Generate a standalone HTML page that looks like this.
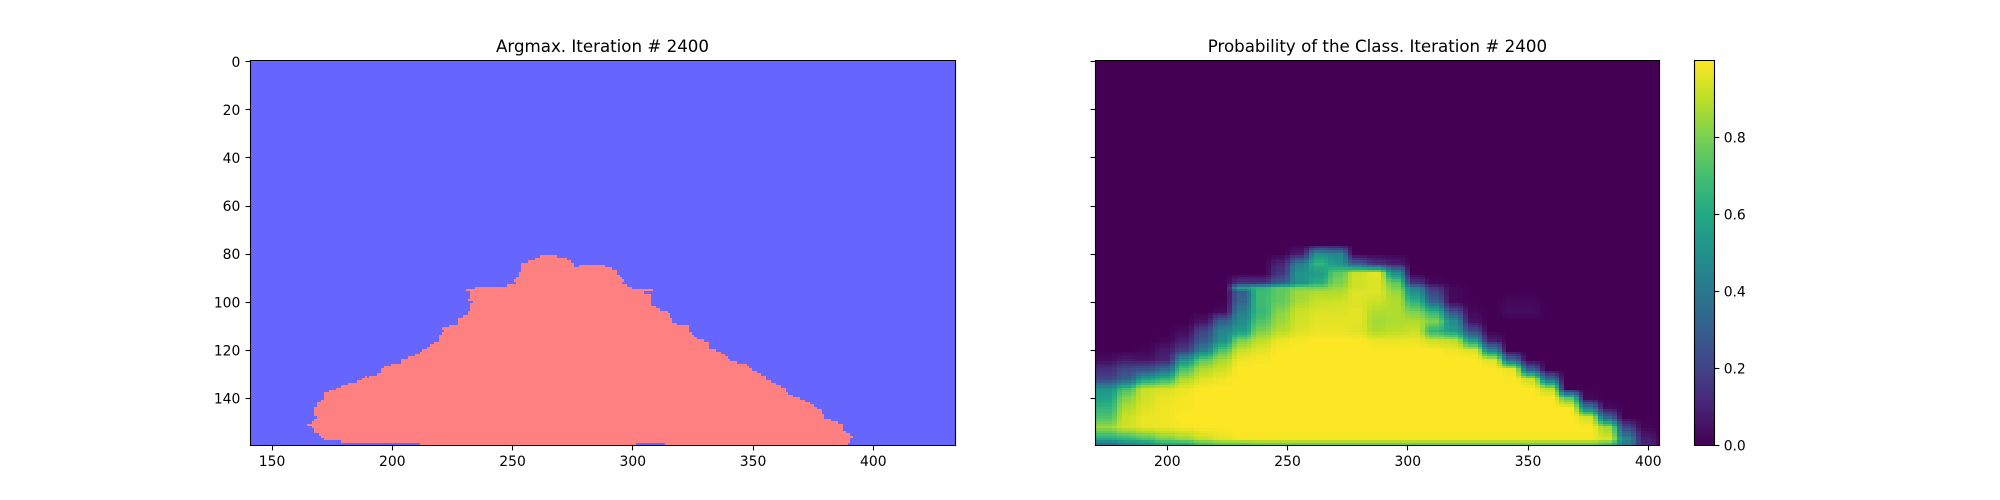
<!DOCTYPE html>
<html lang="en">
<head>
<meta charset="utf-8">
<title>Argmax and Probability of the Class. Iteration # 2400</title>
<style>
html,body{margin:0;padding:0;background:#fff;}
svg{display:block;font-family:"DejaVu Sans","Liberation Sans",sans-serif;}
text{fill:#000;}
</style>
</head>
<body>
<svg id="figure" xmlns="http://www.w3.org/2000/svg" width="2000" height="500" viewBox="0 0 2000 500">
  <defs>
    <clipPath id="clip-left"><rect x="250" y="60" width="706" height="386"/></clipPath>
    <clipPath id="clip-right"><rect x="1095" y="60" width="565" height="386"/></clipPath>
  </defs>
  <rect x="0" y="0" width="2000" height="500" fill="#ffffff"/>
  <g id="argmax-image" clip-path="url(#clip-left)"></g>
  <g id="prob-image" clip-path="url(#clip-right)"></g>
  <g id="cbar-image"></g>
  <g id="axes-layer"></g>
  <text x="602.5" y="52" font-size="16.67" text-anchor="middle">Argmax. Iteration # 2400</text>
  <text x="1377.4" y="52" font-size="16.67" text-anchor="middle">Probability of the Class. Iteration # 2400</text>
</svg>
<script>
// ---- Argmax mask: for each image row, first and last class-1 column ----
const argmaxRowStart = 81;
const argmaxFirst = [262,260,257,254,254,254,254,253,253,252,251,252,248,235,231,233,233,233,232,234,233,233,233,232,232,230,228,228,228,224,221,222,221,220,220,220,218,216,215,213,212,210,207,204,204,200,197,196,196,194,189,188,186,182,179,177,174,172,172,172,171,169,169,168,168,168,168,169,168,167,165,167,168,168,170,171,172,179,212];
const argmaxLast = [268,272,274,275,288,291,293,293,294,295,296,295,297,299,308,304,307,307,307,307,307,309,311,314,315,315,316,316,318,323,323,323,324,325,326,329,331,331,331,334,336,338,339,340,343,347,348,349,351,353,355,355,357,359,361,363,363,364,366,369,371,373,375,376,378,378,379,379,382,385,387,387,387,388,390,391,390,390,389];
const argmaxGapRow = [85,131,159];
const argmaxGapFirst = [276,190,302];
const argmaxGapLast = [277,190,313];

// ---- Probability: percent values, one array per 8-wide column block ----
const probColumnStart = [171,179,187,195,203,211,219,227,235,243,251,259,267,275,283,291,299,307,315,323,331,339,347,355,363,371,379,387,395,403];
const probRows = [72,76,80,84,88,92,94,96,100,104,108,112,116,120,124,128,132,136,140,144,148,152,157,159];
const probByColumn = [
[0,0,0,0,0,0,0,0,0,0,0,0,0,0,3,13,20,50,58,65,72,85,60,36],
[0,0,0,0,0,0,0,0,0,0,0,0,0,0,7,22,30,70,82,88,92,93,65,45],
[0,0,0,0,0,0,0,0,0,0,0,0,0,1,5,25,55,92,93,95,97,97,72,50],
[0,0,0,0,0,0,0,0,0,0,0,0,1,7,10,35,65,94,97,98,98,98,80,60],
[0,0,0,0,0,0,0,0,0,0,0,3,8,18,50,72,87,97,99,99,100,99,85,60],
[0,0,0,0,0,0,0,0,0,0,5,20,28,42,75,88,95,100,100,100,100,100,92,70],
[0,0,0,0,0,0,0,0,0,3,30,45,50,72,87,93,98,100,100,100,100,100,96,75],
[0,0,0,0,0,15,55,30,33,42,48,55,80,92,98,100,100,100,100,100,100,100,99,75],
[0,0,0,0,0,15,65,68,68,66,72,80,90,96,99,100,100,100,100,100,100,100,99,78],
[0,0,0,10,15,30,75,75,76,82,85,89,97,100,100,100,100,100,100,100,100,100,99,78],
[0,0,8,42,50,50,80,85,87,92,93,95,99,100,100,100,100,100,100,100,100,100,99,78],
[0,0,50,65,55,62,80,88,92,95,96,97,100,100,100,100,100,100,100,100,100,100,99,78],
[0,0,45,52,75,80,85,88,93,95,96,97,100,100,100,100,100,100,100,100,100,100,99,78],
[0,0,0,30,92,93,93,95,95,96,96,95,100,100,100,100,100,100,100,100,100,100,99,78],
[0,0,0,15,96,95,95,95,92,88,86,88,97,100,100,100,100,100,100,100,100,100,99,78],
[0,0,0,8,50,75,80,85,88,88,88,90,97,100,100,100,100,100,100,100,100,100,99,78],
[0,0,0,0,0,15,42,50,65,80,88,92,97,100,100,100,100,100,100,100,100,100,99,78],
[0,0,0,0,0,2,15,20,33,65,80,65,92,100,100,100,100,100,100,100,100,100,99,78],
[0,0,0,0,0,0,2,2,2,25,48,55,90,98,100,100,100,100,100,100,100,100,99,78],
[0,0,0,0,0,0,0,0,0,2,5,22,55,95,100,100,100,100,100,100,100,100,99,78],
[0,0,0,0,0,0,0,0,0,0,0,0,8,45,95,100,100,100,100,100,100,100,99,78],
[0,0,0,0,0,0,0,0,2,3,0,0,0,0,35,97,100,100,100,100,100,100,99,78],
[0,0,0,0,0,0,0,0,2,3,0,0,0,0,0,30,92,100,100,100,100,100,99,78],
[0,0,0,0,0,0,0,0,0,0,0,0,0,0,0,0,33,90,100,100,100,100,99,78],
[0,0,0,0,0,0,0,0,0,0,0,0,0,0,0,0,0,0,75,100,100,100,99,78],
[0,0,0,0,0,0,0,0,0,0,0,0,0,0,0,0,0,0,2,42,93,100,99,78],
[0,0,0,0,0,0,0,0,0,0,0,0,0,0,0,0,0,0,0,3,33,85,95,70],
[0,0,0,0,0,0,0,0,0,0,0,0,0,0,0,0,0,0,0,0,0,20,45,40],
[0,0,0,0,0,0,0,0,0,0,0,0,0,0,0,0,0,0,0,0,0,1,8,10],
[0,0,0,0,0,0,0,0,0,0,0,0,0,0,0,0,0,0,0,0,0,0,0,0]
];

// ---- Tick labels ----
const leftXTicks = [150,200,250,300,350,400];
const rightXTicks = [200,250,300,350,400];
const yTicks = [0,20,40,60,80,100,120,140];
const cbarTicks = [0,0.2,0.4,0.6,0.8];

// ---- Colormap ----
const viridisStops = ['#440154','#482475','#414487','#355f8d','#2a788e','#21918c','#22a884','#44bf70','#7ad151','#bddf26','#fde725'];
const BLUE = '#6666ff';
const PINK = '#ff8080';

const SVGNS = 'http://www.w3.org/2000/svg';
function hexRgb(h){return [parseInt(h.slice(1,3),16),parseInt(h.slice(3,5),16),parseInt(h.slice(5,7),16)];}
function viridis(v){
  const t=Math.max(0,Math.min(1,v))*(viridisStops.length-1);
  const i=Math.min(Math.floor(t),viridisStops.length-2);
  const f=t-i,a=hexRgb(viridisStops[i]),b=hexRgb(viridisStops[i+1]);
  return 'rgb('+Math.round(a[0]+(b[0]-a[0])*f)+','+Math.round(a[1]+(b[1]-a[1])*f)+','+Math.round(a[2]+(b[2]-a[2])*f)+')';
}

// ---- Axis functions ----
const UNIT = 2.405;
function xLeft(v){return 392.3+UNIT*(v-200);}
function xRight(v){return 1167.3+UNIT*(v-200);}
function yData(v){return 61.7+UNIT*v;}
function yCbar(v){return 445.3-384.8*v;}
function snap(p){return Math.floor(p)+0.5;}

// Edges snap to whole pixels so neighbouring cells share a boundary with no seam.
function mkRect(parent,x0,y0,x1,y1,fill){
  const r=document.createElementNS(SVGNS,'rect');
  const ax=Math.round(x0),ay=Math.round(y0),bx=Math.round(x1),by=Math.round(y1);
  r.setAttribute('x',ax);
  r.setAttribute('y',ay);
  r.setAttribute('width',bx-ax);
  r.setAttribute('height',by-ay);
  r.setAttribute('fill',fill);
  r.setAttribute('shape-rendering','crispEdges');
  parent.appendChild(r);
  return r;
}
function mkLine(parent,x1,y1,x2,y2){
  const l=document.createElementNS(SVGNS,'line');
  l.setAttribute('x1',x1);
  l.setAttribute('y1',y1);
  l.setAttribute('x2',x2);
  l.setAttribute('y2',y2);
  l.setAttribute('stroke','#000');
  l.setAttribute('stroke-width','1.11');
  parent.appendChild(l);
  return l;
}
function mkText(parent,x,y,str,anchor){
  const t=document.createElementNS(SVGNS,'text');
  t.setAttribute('x',x);
  t.setAttribute('y',y);
  t.setAttribute('font-size','13.89');
  t.setAttribute('text-anchor',anchor);
  t.textContent=str;
  parent.appendChild(t);
  return t;
}

// ---- Left panel ----
const argG=document.getElementById('argmax-image');
const argBg=mkRect(argG,250,60,956,446,BLUE);


argmaxFirst.forEach(function(first,i){
  const row=argmaxRowStart+i;
  const r=mkRect(argG,xLeft(first-0.5),yData(row-0.5),xLeft(argmaxLast[i]+0.5),yData(row+0.5),PINK);
  
  
});
argmaxGapRow.forEach(function(row,i){
  const r=mkRect(argG,xLeft(argmaxGapFirst[i]-0.5),yData(row-0.5),xLeft(argmaxGapLast[i]+0.5),yData(row+0.5),BLUE);
  
  
});

// ---- Right panel ----
function columnValue(k,row){
  const vals=probByColumn[k];
  if(row<=probRows[0]-4)return 0;
  if(row<probRows[0])return vals[0]*(row-probRows[0]+4)/4;
  for(let j=0;j<probRows.length-1;j++){
    if(row<=probRows[j+1]){
      const f=(row-probRows[j])/(probRows[j+1]-probRows[j]);
      return vals[j]+(vals[j+1]-vals[j])*f;
    }
  }
  return vals[vals.length-1];
}
function blockIndex(x){
  let k=0;
  for(let i=0;i<probColumnStart.length;i++){if(x>=probColumnStart[i])k=i;}
  return k;
}
function probAt(x,row){
  const k=blockIndex(x);
  const t=(x-probColumnStart[k])/8;
  const v=columnValue(k,row);
  if(t<0.25&&k>0)return v*0.75+columnValue(k-1,row)*0.25;
  if(t>0.75&&k<probColumnStart.length-1)return v*0.75+columnValue(k+1,row)*0.25;
  return v;
}
const probG=document.getElementById('prob-image');
const probBg=mkRect(probG,1095,60,1660,446,viridis(0));


for(let row=probRows[0]-4;row<=159;row++){
  for(let cx=probColumnStart[0]-1;cx<=probColumnStart[probColumnStart.length-1]+2;cx+=2){
    const v=probAt(cx,row);
    if(v<=0)continue;
    const r=mkRect(probG,xRight(cx-1),yData(row-0.5),xRight(cx+1),yData(row+0.5),viridis(v/100));
    
    
  }
}

// ---- Colorbar ----
const cbG=document.getElementById('cbar-image');
for(let i=0;i<256;i++){
  const a=i/256,b=(i+1)/256;
  const r=mkRect(cbG,1694,yCbar(b),1715,yCbar(a),viridis(a));
  
  
}

// ---- Axes ----
const ax=document.getElementById('axes-layer');
const frames=[[250.5,955.5],[1095.5,1659.5],[1694.5,1714.5]];
frames.forEach(function(f){
  [[f[0],60.5,f[0],445.5],[f[1],60.5,f[1],445.5],[f[0]-0.55,60.5,f[1]+0.55,60.5],[f[0]-0.55,445.5,f[1]+0.55,445.5]].forEach(function(s){
    const l=mkLine(ax,s[0],s[1],s[2],s[3]);
    
    
  });
});
leftXTicks.forEach(function(v){
  const x=xLeft(v);
  const l=mkLine(ax,snap(x),445.5,snap(x),450.4);
  
  
  const t=mkText(ax,x,466,String(v),'middle');
  
  
});
rightXTicks.forEach(function(v){
  const x=xRight(v);
  const l=mkLine(ax,snap(x),445.5,snap(x),450.4);
  
  
  const t=mkText(ax,x,466,String(v),'middle');
  
  
});
yTicks.forEach(function(v){
  const y=yData(v);
  const l=mkLine(ax,245.6,snap(y),250.5,snap(y));
  
  
  const t=mkText(ax,240.3,y+5.1,String(v),'end');
  
  
  const l2=mkLine(ax,1090.6,snap(y),1095.5,snap(y));
  
  
});
cbarTicks.forEach(function(v){
  const y=yCbar(v);
  const l=mkLine(ax,1714.5,snap(y),1719.4,snap(y));
  
  
  const t=mkText(ax,1723.7,y+5.1,v.toFixed(1),'start');
  
  
});
</script>
</body>
</html>
